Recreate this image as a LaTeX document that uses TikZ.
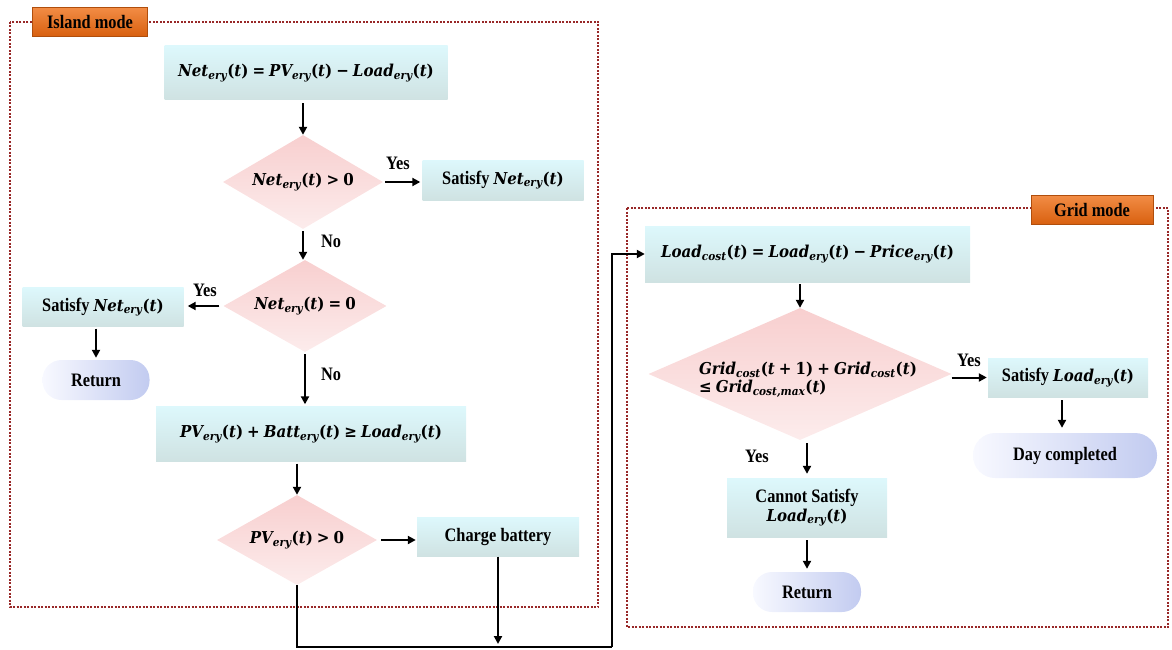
\documentclass[tikz,border=0pt]{standalone}
\usepackage{fontspec}
\setmainfont{Liberation Serif}[FakeStretch=0.86]
\newfontfamily\mfont{DejaVu Serif}[Scale=0.86, FakeStretch=0.92]
\usetikzlibrary{shapes.geometric,arrows.meta,calc}
\definecolor{frm}{HTML}{982828}
\definecolor{boxtop}{HTML}{DDF8FC}
\definecolor{boxbot}{HTML}{CFE2E2}
\definecolor{pinktop}{HTML}{F8CFCF}
\definecolor{pinkbot}{HTML}{FCECEC}
\definecolor{termL}{HTML}{F8F9FF}
\definecolor{termR}{HTML}{C2CBF0}
\definecolor{orgtop}{HTML}{F28C45}
\definecolor{orgbot}{HTML}{D8600F}
\definecolor{orgdraw}{HTML}{B04E0C}
\newcommand{\mv}[1]{{\mfont\bfseries\itshape #1}}
\newcommand{\mo}[1]{{\mfont\bfseries #1}}
\newcommand{\sbs}[1]{\textsubscript{\mfont\bfseries\itshape #1}}
\newcommand{\ery}[1]{\mv{#1}\sbs{ery}\mo{(}\mv{t}\mo{)}}
\newcommand{\cost}[1]{\mv{#1}\sbs{cost}}
\begin{document}
\begin{tikzpicture}[x=1pt,y=-1pt,
  every node/.style={font=\fontsize{19}{21}\selectfont\bfseries},
  frame/.style={draw=frm, line width=1.6pt, dash pattern=on 2pt off 1.5pt},
  modelabel/.style={draw=orgdraw, line width=0.8pt, top color=orgtop, bottom color=orgbot, inner sep=0pt},
  proc/.style={top color=boxtop, bottom color=boxbot, inner sep=2pt, align=center},
  dec/.style={diamond, aspect=2, top color=pinktop, bottom color=pinkbot, inner sep=0pt, align=center},
  term/.style={rectangle, rounded corners=19pt, left color=termL, right color=termR, inner sep=0pt},
  arr/.style={-{Triangle[length=8pt,width=8pt]}, line width=2pt},
  link/.style={line width=2pt},
  lbl/.style={inner sep=0pt}
]
\useasboundingbox (0,0) rectangle (1172,650);

% frames
\draw[frame] (10,22) rectangle (598,607);
\draw[frame] (627,208) rectangle (1168,627);
\node[modelabel, minimum width=115pt, minimum height=29pt] (lisland) at (90,22) {Island mode};
\node[modelabel, minimum width=122pt, minimum height=29pt] (lgrid) at (1092,210) {Grid mode};

% island mode
\node[proc, minimum width=283pt, minimum height=54pt] (b1) at (306,73)
  {\ery{Net} \mo{=} \ery{PV} \mo{−} \ery{Load}};
\node[dec, minimum width=160pt, minimum height=94pt] (d1) at (303,182) {\ery{Net} \mo{>} \mo{0}};
\node[proc, minimum width=161pt, minimum height=40pt] (s1) at (503,180) {Satisfy \ery{Net}};
\node[dec, minimum width=163pt, minimum height=92pt] (d2) at (305,306) {\ery{Net} \mo{=} \mo{0}};
\node[proc, minimum width=161pt, minimum height=39pt] (s2) at (103,307) {Satisfy \ery{Net}};
\node[term, minimum width=107pt, minimum height=40pt] (r1) at (96,380) {Return};
\node[proc, minimum width=310pt, minimum height=55pt] (b3) at (311,434)
  {\ery{PV} \mo{+} \ery{Batt} \mo{≥} \ery{Load}};
\node[dec, minimum width=160pt, minimum height=90pt] (d3) at (297,540) {\ery{PV} \mo{>} \mo{0}};
\node[proc, minimum width=162pt, minimum height=39pt] (cb) at (498,537) {Charge battery};

\node[lbl] (y1) at (398,163) {Yes};
\node[lbl] (n1) at (331,241) {No};
\node[lbl] (y2) at (205,290) {Yes};
\node[lbl] (n2) at (331,374) {No};

\draw[arr, shorten <=3pt] (b1.south -| d1.north) -- (d1.north);
\draw[arr, shorten <=2pt, shorten >=2pt] (d1.east) -- (d1.east -| s1.west);
\draw[arr, shorten <=2pt] (d1.south) -- (d1.south |- d2.north);
\draw[arr, shorten <=4pt, shorten >=4pt] (d2.west) -- (d2.west -| s2.east);
\draw[arr, shorten >=2pt, shorten <=2pt] (s2.south -| 96,0) -- (r1.north);
\draw[arr, shorten >=2pt, shorten <=2pt] (d2.south) -- (d2.south |- b3.north);
\draw[arr, shorten <=2pt] (b3.south -| d3.north) -- (d3.north);
\draw[arr, shorten <=4pt, shorten >=1pt] (d3.east) -- (d3.east -| cb.west);

% grid mode
\node[proc, minimum width=325pt, minimum height=56pt] (g1) at (807.5,254)
  {\cost{Load}\mo{(}\mv{t}\mo{)} \mo{=} \ery{Load} \mo{−} \ery{Price}};
\node[dec, minimum width=303pt, minimum height=132pt] (gd) at (800,374) {};
\node[lbl, align=left] (gdt) at (808,380)
  {\cost{Grid}\mo{(}\mv{t} \mo{+} \mo{1)} \mo{+} \cost{Grid}\mo{(}\mv{t}\mo{)}\\[-3pt] \mo{≤} \mv{Grid}\sbs{cost,max}\mo{(}\mv{t}\mo{)}};
\node[proc, minimum width=160pt, minimum height=39pt] (gs) at (1068,377.5) {Satisfy \ery{Load}};
\node[term, minimum width=184pt, minimum height=45pt, rounded corners=22pt] (day) at (1065,455.5) {Day completed};
\node[proc, minimum width=160pt, minimum height=59pt] (cn) at (807,507.5) {Cannot Satisfy\\[-2pt] \ery{Load}};
\node[term, minimum width=108pt, minimum height=40pt] (r2) at (807,592) {Return};

\node[lbl] (y3) at (969,360) {Yes};
\node[lbl] (y4) at (757,456) {Yes};

\draw[arr, shorten <=2pt] (g1.south -| gd.north) -- (gd.north);
\draw[arr, shorten >=1pt] (gd.east |- gs.west) -- (gs.west);
\draw[arr, shorten <=3pt, shorten >=5pt] (gs.south -| 1062,0) -- (day.north -| 1062,0);
\draw[arr, shorten <=3pt, shorten >=4pt] (gd.south -| cn.north) -- (cn.north);
\draw[arr, shorten <=3pt, shorten >=3pt] (cn.south) -- (r2.north);

% link to grid mode
\coordinate (c1) at (297,647);
\coordinate (c2) at (612,647);
\draw[link] (d3.south) -- (c1) -- (c2);
\draw[arr] (c2) |- (g1.west);
\draw[arr] (cb.south) -- ($(cb.south |- c1)+(0,-3)$);
\end{tikzpicture}
\end{document}
